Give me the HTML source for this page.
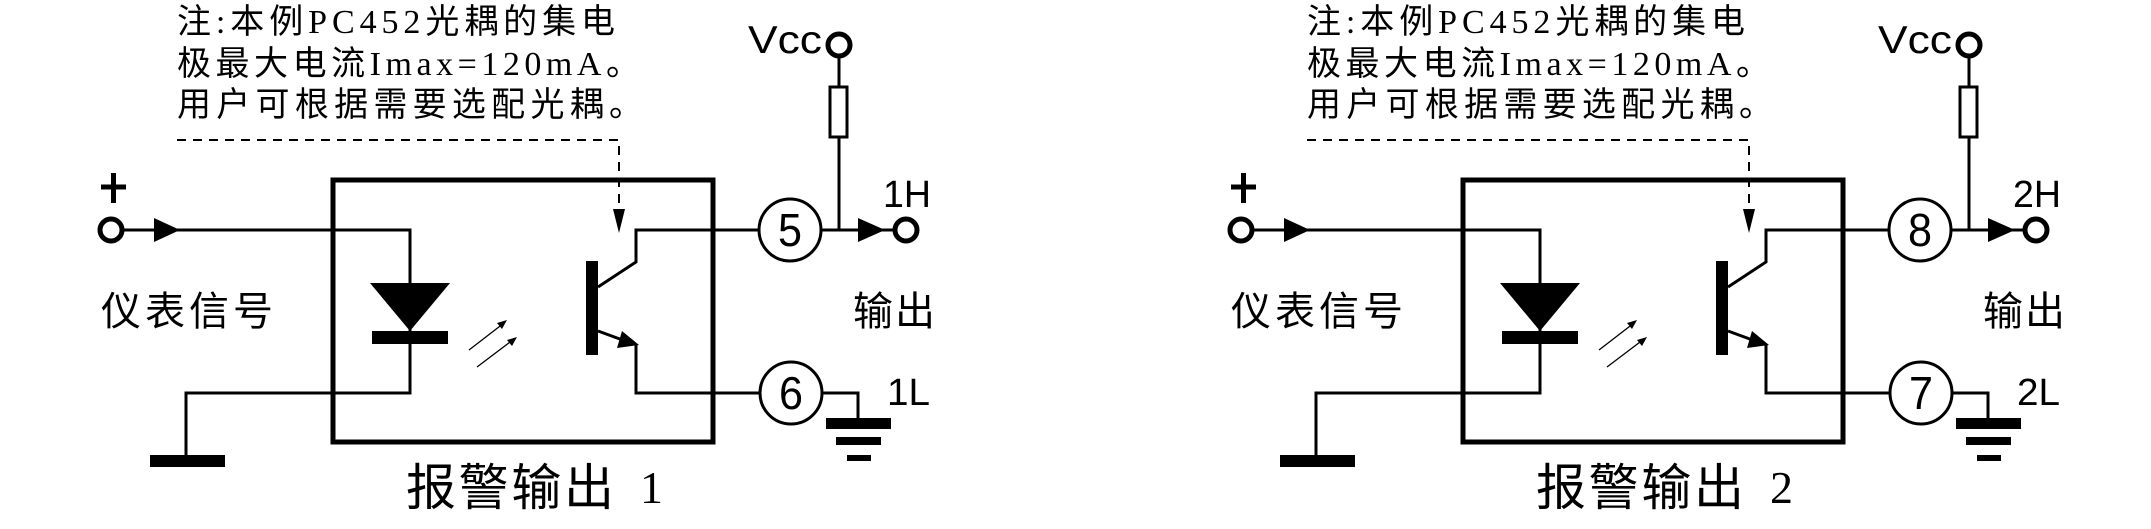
<!DOCTYPE html>
<html><head><meta charset="utf-8"><style>
html,body{margin:0;padding:0;background:#fff;}
svg{display:block}
text{fill:#000}
.n{font-family:"Liberation Serif","Noto Sans CJK SC",serif;font-size:34px}
.c{font-family:"Liberation Sans","Noto Sans CJK SC",sans-serif}
</style></head><body>
<svg width="2151" height="529" viewBox="0 0 2151 529" xmlns="http://www.w3.org/2000/svg">
<defs>
<g id="u">
<text class="n" x="177" y="33" textLength="438" lengthAdjust="spacing">注:本例PC452光耦的集电</text>
<text class="n" x="177" y="75" textLength="463" lengthAdjust="spacing">极最大电流Imax=120mA。</text>
<text class="n" x="177" y="116" textLength="466" lengthAdjust="spacing">用户可根据需要选配光耦。</text>
<path d="M177 140 H619 V220" fill="none" stroke="#000" stroke-width="2" stroke-dasharray="9,7"/>
<polygon points="613,209 625,209 619,233" fill="#000"/>
<rect x="333" y="180" width="380" height="262" fill="none" stroke="#000" stroke-width="5"/>
<path d="M101 187 H126 M113.5 173 V203" stroke="#000" stroke-width="5"/>
<circle cx="111" cy="230" r="11" fill="#fff" stroke="#000" stroke-width="5"/>
<path d="M122 230 H410 V331" fill="none" stroke="#000" stroke-width="3"/>
<polygon points="154,218 180,230 154,242" fill="#000"/>
<polygon points="370,283 450,283 410,331" fill="#000"/>
<rect x="372" y="331" width="76" height="13" fill="#000"/>
<path d="M410 344 V393 H186 V458" fill="none" stroke="#000" stroke-width="3"/>
<rect x="150" y="455" width="75" height="12" fill="#000"/>
<path d="M469 350 L504 323 M477 367 L514 339" stroke="#000" stroke-width="1.3"/>
<polygon points="507,320 497,323 502,329" fill="#000"/>
<polygon points="517,337 507,340 512,346" fill="#000"/>
<rect x="586" y="261" width="12" height="94" fill="#000"/>
<path d="M598 287 L636 262 V230 H759" fill="none" stroke="#000" stroke-width="3"/>
<path d="M598 331 L628 342 M636 344 V393 H759" fill="none" stroke="#000" stroke-width="3"/>
<polygon points="622,331 639,345 617,348" fill="#000"/>
<circle cx="790" cy="230" r="31" fill="#fff" stroke="#000" stroke-width="3"/>
<circle cx="791" cy="393" r="31" fill="#fff" stroke="#000" stroke-width="3"/>
<path d="M821 230 H896" stroke="#000" stroke-width="3"/>
<polygon points="858,218 885,230 858,242" fill="#000"/>
<circle cx="906" cy="230" r="11" fill="#fff" stroke="#000" stroke-width="5"/>
<path d="M839 56 V230" stroke="#000" stroke-width="3"/>
<rect x="830" y="87" width="17" height="50" fill="#fff" stroke="#000" stroke-width="3"/>
<circle cx="839" cy="45" r="11" fill="#fff" stroke="#000" stroke-width="5"/>
<path d="M822 393 H858 V420" fill="none" stroke="#000" stroke-width="3"/>
<rect x="826" y="418" width="65" height="11" fill="#000"/>
<rect x="836" y="437" width="45" height="8" fill="#000"/>
<rect x="847" y="455" width="24" height="6" fill="#000"/>
<text class="c" x="101" y="325" font-size="40" textLength="172" lengthAdjust="spacing">仪表信号</text>
<text class="c" x="853" y="325" font-size="40" textLength="82" lengthAdjust="spacing">输出</text>
<text class="c" x="748" y="53" font-size="39" textLength="74" lengthAdjust="spacingAndGlyphs">Vcc</text>
<text class="c" x="406" y="505" font-size="50" textLength="208" lengthAdjust="spacing">报警输出</text>
</g>
</defs>
<use href="#u"/>
<use href="#u" transform="translate(1130,0)"/>
<g class="c">
<text x="883" y="207" font-size="38" textLength="48" lengthAdjust="spacingAndGlyphs">1H</text>
<text x="887" y="405" font-size="38" textLength="43" lengthAdjust="spacingAndGlyphs">1L</text>
<text x="778" y="246" font-size="46" textLength="24" lengthAdjust="spacingAndGlyphs">5</text>
<text x="779" y="409" font-size="46" textLength="24" lengthAdjust="spacingAndGlyphs">6</text>
<text x="2013" y="207" font-size="38" textLength="48" lengthAdjust="spacingAndGlyphs">2H</text>
<text x="2017" y="405" font-size="38" textLength="43" lengthAdjust="spacingAndGlyphs">2L</text>
<text x="1908" y="246" font-size="46" textLength="24" lengthAdjust="spacingAndGlyphs">8</text>
<text x="1909" y="409" font-size="46" textLength="24" lengthAdjust="spacingAndGlyphs">7</text>
</g>
<text x="640" y="503" style="font-family:'Liberation Serif',serif;font-size:46px">1</text>
<text x="1770" y="503" style="font-family:'Liberation Serif',serif;font-size:46px">2</text>
</svg>
</body></html>
